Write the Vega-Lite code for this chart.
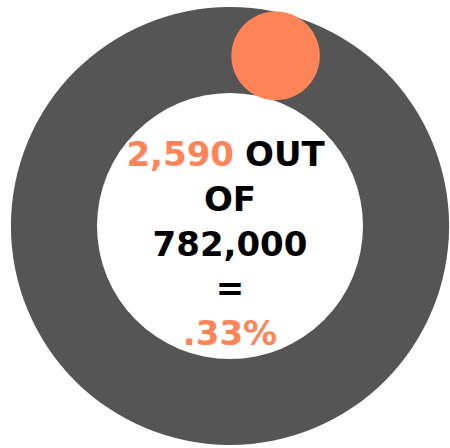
{
  "$schema": "https://vega.github.io/schema/vega-lite/v6.json",
  "width": 440,
  "height": 444,
  "autosize": {"type": "none"},
  "padding": {"left": 10, "top": 4, "right": 0, "bottom": 0},
  "background": "white",
  "config": {"view": {"stroke": null}},
  "datasets": {
    "ring": [{"group": "Total", "count": 782000}],
    "marker": [{"group": "Highlighted", "angle": 14.9}],
    "left": [{"piece": "2,590", "line": 1, "role": "highlight"}],
    "right": [{"piece": "OUT", "line": 1, "role": "plain"}],
    "center": [
      {"piece": "OF", "line": 2, "role": "plain"},
      {"piece": "782,000", "line": 3, "role": "plain"},
      {"piece": "=", "line": 4, "role": "plain"},
      {"piece": ".33%", "line": 5, "role": "highlight"}
    ]
  },
  "layer": [
    {
      "data": {"name": "ring"},
      "mark": {"type": "arc", "outerRadius": 219, "innerRadius": 133, "color": "#555555"},
      "encoding": {"theta": {"field": "count", "type": "quantitative"}}
    },
    {
      "data": {"name": "marker"},
      "mark": {"type": "text", "text": "●", "radius": 177, "dy": -4, "fontSize": 116, "font": "DejaVu Sans", "baseline": "middle", "align": "center", "color": "#FF8559"},
      "encoding": {"theta": {"field": "angle", "type": "quantitative", "stack": null, "scale": {"domain": [0, 360], "range": [0, 6.283185]}}}
    },
    {
      "data": {"name": "left"},
      "mark": {"type": "text", "align": "right", "baseline": "alphabetic", "dx": 4, "font": "DejaVu Sans", "fontWeight": "bold", "fontSize": 34},
      "encoding": {
        "y": {"field": "line", "type": "quantitative", "axis": null, "scale": {"domain": [1, 5], "range": [162, 341], "nice": false, "zero": false}},
        "text": {"field": "piece"},
        "color": {"field": "role", "type": "nominal", "legend": null, "scale": {"domain": ["highlight", "plain"], "range": ["#FF8559", "#000000"]}}
      }
    },
    {
      "data": {"name": "right"},
      "mark": {"type": "text", "align": "left", "baseline": "alphabetic", "dx": 15, "font": "DejaVu Sans", "fontWeight": "bold", "fontSize": 34},
      "encoding": {
        "y": {"field": "line", "type": "quantitative", "axis": null, "scale": {"domain": [1, 5], "range": [162, 341], "nice": false, "zero": false}},
        "text": {"field": "piece"},
        "color": {"field": "role", "type": "nominal", "legend": null, "scale": {"domain": ["highlight", "plain"], "range": ["#FF8559", "#000000"]}}
      }
    },
    {
      "data": {"name": "center"},
      "mark": {"type": "text", "align": "center", "baseline": "alphabetic", "font": "DejaVu Sans", "fontWeight": "bold", "fontSize": 34},
      "encoding": {
        "y": {"field": "line", "type": "quantitative", "axis": null, "scale": {"domain": [1, 5], "range": [162, 341], "nice": false, "zero": false}},
        "text": {"field": "piece"},
        "color": {"field": "role", "type": "nominal", "legend": null, "scale": {"domain": ["highlight", "plain"], "range": ["#FF8559", "#000000"]}}
      }
    }
  ],
  "resolve": {"scale": {"theta": "independent"}}
}
